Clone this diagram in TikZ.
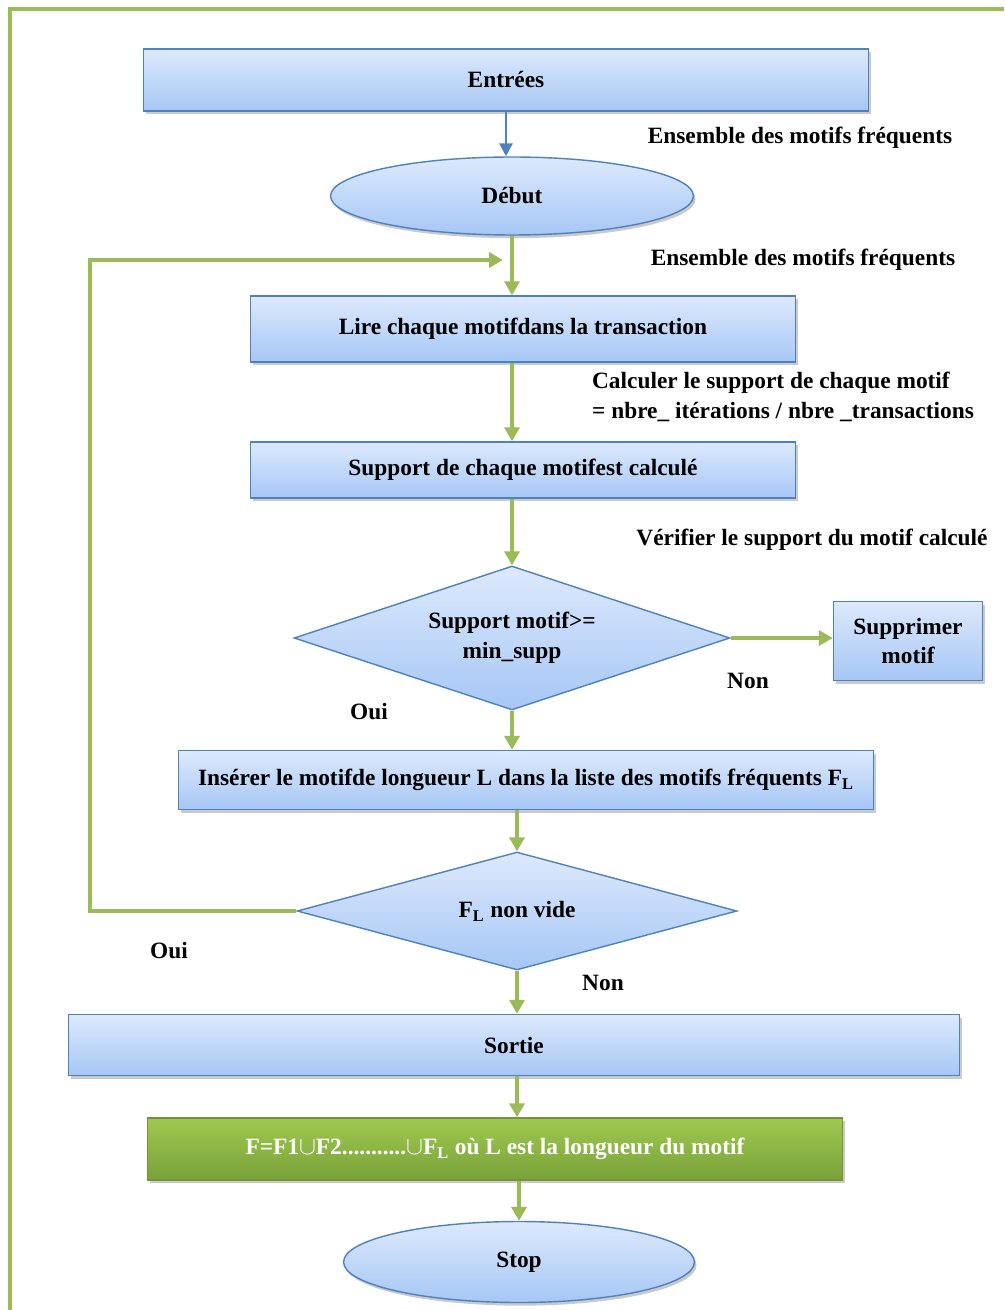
\documentclass[tikz,border=0pt]{standalone}
\usepackage{fontspec}
\setmainfont{Liberation Serif}
\usepackage{tikz}
\usetikzlibrary{arrows.meta,positioning,shapes.geometric,shadows}
\definecolor{boxtop}{RGB}{221,233,252}
\definecolor{boxbottom}{RGB}{166,199,245}
\definecolor{boxline}{RGB}{79,129,189}
\definecolor{flowgreen}{RGB}{155,187,89}
\definecolor{greentop}{RGB}{160,200,80}
\definecolor{greenbottom}{RGB}{120,162,58}
\definecolor{greenline}{RGB}{118,146,60}
\newcommand{\flowfont}{\fontsize{13.3}{17}\selectfont\bfseries}
\tikzset{
  softshadow/.style={drop shadow={shadow xshift=1.2pt, shadow yshift=-1.8pt,
    opacity=0.35, fill=black!60}},
  stepbox/.style={draw=boxline, thick, top color=boxtop, bottom color=boxbottom,
    align=center, inner sep=3pt, font=\flowfont, softshadow},
  resultbox/.style={draw=greenline, thick, top color=greentop,
    bottom color=greenbottom, text=white, align=center, inner sep=3pt,
    font=\flowfont, softshadow},
  terminal/.style={ellipse, draw=boxline, thick, top color=boxtop,
    bottom color=boxbottom, align=center, font=\flowfont, softshadow},
  decision/.style={diamond, draw=boxline, thick, top color=boxtop,
    bottom color=boxbottom, aspect=3, inner sep=1pt, align=center,
    font=\flowfont},
  note/.style={font=\flowfont, inner sep=1pt},
  flow/.style={-{Triangle[length=2.8mm,width=3mm]}, line width=2.4pt,
    draw=flowgreen},
  inflow/.style={-{Triangle[length=2.6mm,width=2.6mm]}, line width=1.6pt,
    draw=boxline}
}
\begin{document}
\begin{tikzpicture}[x=0.02cm, y=-0.02cm]
  \useasboundingbox (0,0) rectangle (1004,1310);
  % frame
  \draw[flowgreen, line width=2.6pt] (1004,9) -- (10,9) -- (10,1310);

  \node[stepbox, minimum width=14.5cm, minimum height=1.24cm] (in) at (506,80)
    {Entrées};
  \node[terminal, minimum width=7.26cm, minimum height=1.56cm] (start)
    at (512,196) {Début};
  \node[stepbox, minimum width=10.9cm, minimum height=1.32cm] (read)
    at (523,329) {Lire chaque motifdans la transaction};
  \node[stepbox, minimum width=10.9cm, minimum height=1.12cm] (supp)
    at (523,470) {Support de chaque motifest calculé};
  \node[decision, minimum width=8.72cm, minimum height=2.88cm] (check)
    at (512,638) {Support motif>=\\min\_supp};
  \node[stepbox, minimum width=2.98cm, minimum height=1.58cm] (del)
    at (908,641) {Supprimer\\motif};
  \node[stepbox, minimum width=13.9cm, minimum height=1.18cm] (insert)
    at (526,780)
    {Insérer le motifde longueur L dans la liste des motifs fréquents F\textsubscript{L}};
  \node[decision, minimum width=8.8cm, minimum height=2.36cm] (empty)
    at (517,911) {F\textsubscript{L} non vide};
  \node[stepbox, minimum width=17.82cm, minimum height=1.22cm] (out)
    at (514,1045) {Sortie};
  \node[resultbox, minimum width=13.9cm, minimum height=1.24cm] (result)
    at (495,1149)
    {F=F1$\cup$F2...........$\cup$F\textsubscript{L} où L est la longueur du motif};
  \node[terminal, minimum width=7.02cm, minimum height=1.62cm] (stop)
    at (519,1262) {Stop};

  % labels on the connectors
  \node[note] (setin) at (800,138) {Ensemble des motifs fréquents};
  \node[note] (setloop) at (803,260) {Ensemble des motifs fréquents};
  \node[note, align=left, anchor=west] (calc) at (590,397)
    {Calculer le support de chaque motif\\= nbre\_ itérations / nbre \_transactions};
  \node[note] (verif) at (812,540) {Vérifier le support du motif calculé};
  \node[note] (no1) at (748,681) {Non};
  \node[note] (yes1) at (369,712) {Oui};
  \node[note] (yes2) at (169,951) {Oui};
  \node[note] (no2) at (603,983) {Non};

  \coordinate (back) at (90,911);
  \coordinate (merge) at (503,260);

  \draw[inflow] (in.south) -- (in.south |- start.north);
  \draw[flow] (start.south) -- (start.south |- read.north);
  \draw[flow] (empty.west) -- (back) |- (merge);
  \draw[flow] (start |- read.south) -- (start |- supp.north);
  \draw[flow] (check |- supp.south) -- (check.north);
  \draw[flow] (check.east) -- (check.east -| del.west);
  \draw[flow] (check.south) -- (check |- insert.north);
  \draw[flow] (empty |- insert.south) -- (empty.north);
  \draw[flow] (empty.south) -- (empty |- out.north);
  \draw[flow] (empty |- out.south) -- (empty |- result.north);
  \draw[flow] (stop |- result.south) -- (stop.north);
\end{tikzpicture}
\end{document}
